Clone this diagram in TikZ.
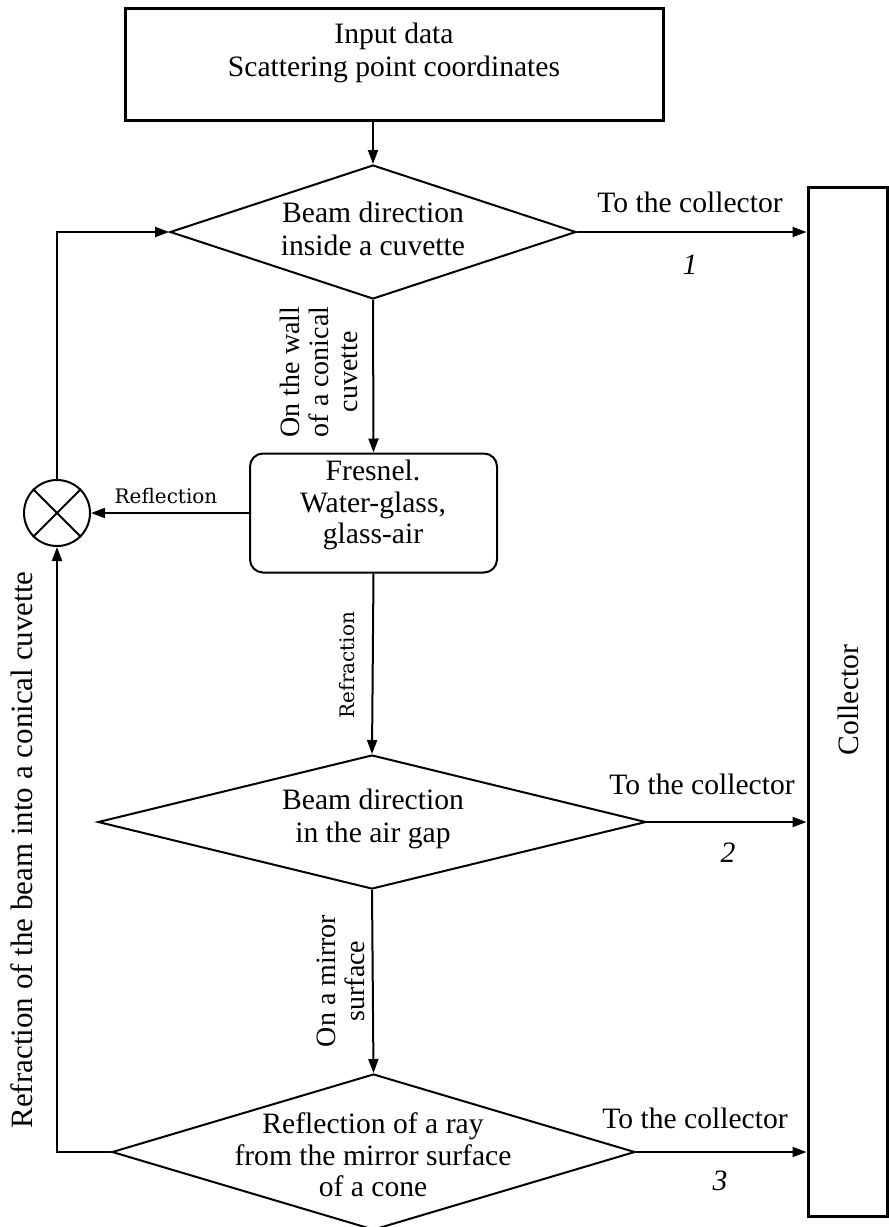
\documentclass[tikz,border=0pt]{standalone}
\usepackage{fontspec}
\setmainfont{Liberation Serif}
\newfontfamily\labelfont{DejaVu Serif}
\usetikzlibrary{shapes.geometric,arrows.meta}

\begin{document}
\begin{tikzpicture}[x=0.5pt,y=-0.5pt,
                        box1/.style={shape=rectangle,draw,line width=1.5pt,inner sep=0pt},
                        box2/.style={shape=rectangle,draw,line width=1pt,rounded corners=6.5pt,inner sep=0pt},
                        rhomb/.style={shape=diamond,draw,line width=1pt,inner sep=0pt},
                        conn/.style={line width=1pt,-{Triangle[length=7pt,width=5pt]}},
                        main/.style={font=\fontsize{14.8}{16.5}\selectfont,align=center},
                        side/.style={font=\fontsize{14}{14.5}\selectfont,align=center,rotate=90},
                        small/.style={font=\labelfont\fontsize{10}{12}\selectfont}
                        ]
                        \useasboundingbox (0,0) rectangle (889,1227);
                        %Input data
                        \node [box1,minimum width=269pt,minimum height=56pt] (input) at (394,64) {};
                        \node [main] (inputtext) at (394,53) {Input data\\Scattering point coordinates};
                        %Collector
                        \node [box1,minimum width=39.5pt,minimum height=514.5pt] (coll) at (847.5,701.5) {};
                        \node [main,rotate=90] (colltext) at (848,700) {Collector};
                        %Beam direction inside a cuvette
                        \node [rhomb,minimum width=203pt,minimum height=67pt] (dir1) at (373,232) {};
                        \node [main] (dir1text) at (373,229) {Beam direction\\inside a cuvette};
                        \node [main] (out1) at (690,202.5) {To the collector};
                        \node [main,font=\fontsize{14.8}{16.5}\selectfont\itshape] (num1) at (690,265) {1};
                        %Fresnel
                        \node [box2,minimum width=123.5pt,minimum height=59.5pt] (fresnel) at (373.5,513) {};
                        \node [main,font=\fontsize{14.8}{15.8}\selectfont] (fresneltext) at (373,505) {Fresnel.\\Water-glass,\\glass-air};
                        \node [draw,circle,line width=1pt,minimum size=33pt,inner sep=0pt] (sum) at (57,513) {};
                        \draw [line width=1pt] (sum.north west) -- (sum.south east) (sum.north east) -- (sum.south west);
                        \node [small] (refl) at (166,496) {Reflection};
                        \node [small,rotate=90] (refr) at (347,665) {Refraction};
                        \node [side] (wall) at (319,372) {On the wall\\of a conical\\cuvette};
                        %Beam direction in the air gap
                        \node [rhomb,minimum width=274pt,minimum height=67pt] (dir2) at (372,822) {};
                        \node [main] (dir2text) at (373,819) {Beam direction\\in the air gap};
                        \node [main] (out2) at (702,784) {To the collector};
                        \node [main,font=\fontsize{14.8}{16.5}\selectfont\itshape] (num2) at (728,853) {2};
                        \node [side] (mirror) at (341,981) {On a mirror\\surface};
                        %Reflection from the mirror cone
                        \node [rhomb,minimum width=261.5pt,minimum height=78pt] (dir3) at (373.5,1152) {};
                        \node [main,font=\fontsize{14.8}{15.8}\selectfont] (dir3text) at (373,1155) {Reflection of a ray\\from the mirror surface\\of a cone};
                        \node [main] (out3) at (695,1118.5) {To the collector};
                        \node [main,font=\fontsize{14.8}{16.5}\selectfont\itshape] (num3) at (720,1181) {3};
                        \node [main,font=\fontsize{15.5}{17}\selectfont,rotate=90] (back) at (22,850) {Refraction of the beam into a conical cuvette};
                        %Connectors
                        \draw [conn] (input.south -| dir1.north) -- (dir1.north);
                        \draw [conn] (dir1.east) -- (dir1.east -| coll.west);
                        \draw [conn] (dir1.south) -- (fresnel.north);
                        \draw [conn] (fresnel.west) -- (sum.east);
                        \draw [conn] (sum.north) |- (dir1.west);
                        \draw [conn] (fresnel.south) -- (dir2.north);
                        \draw [conn] (dir2.east) -- (dir2.east -| coll.west);
                        \draw [conn] (dir2.south) -- (dir3.north);
                        \draw [conn] (dir3.east) -- (dir3.east -| coll.west);
                        \draw [conn] (dir3.west) -| (sum.south);
                \end{tikzpicture}
\end{document}
